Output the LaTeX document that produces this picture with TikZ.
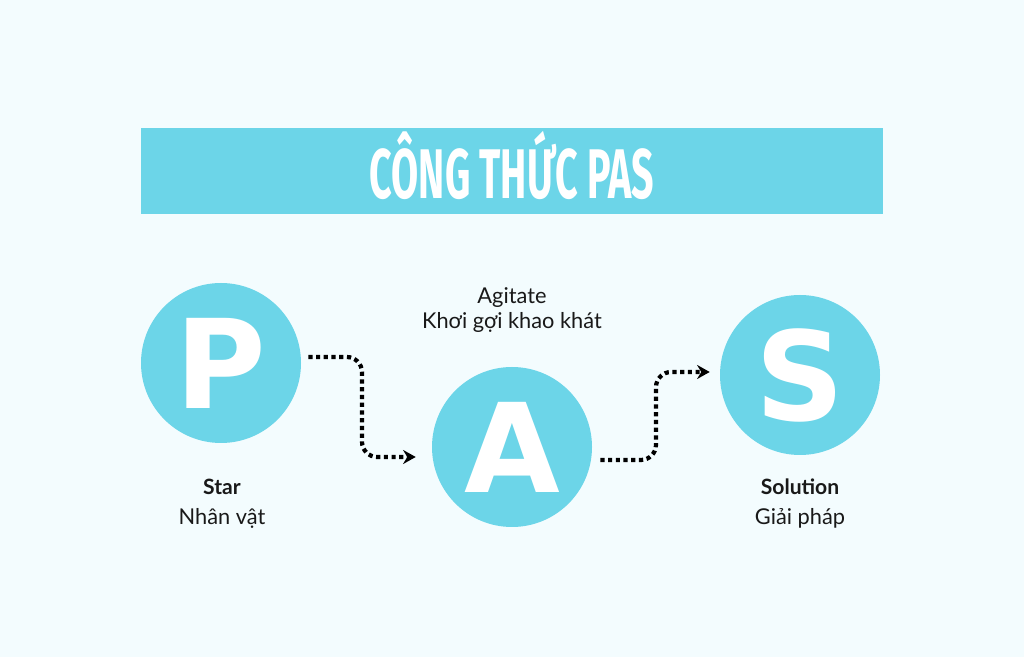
\documentclass[tikz,border=0pt]{standalone}
\usepackage{fontspec}
\setmainfont{Lato}
\newfontfamily\titlefont[FakeStretch=0.56]{Fira Sans}
\newfontfamily\letterfont{DejaVu Sans}
\usetikzlibrary{arrows.meta}
\definecolor{bgcol}{HTML}{F3FCFE}
\definecolor{pascyan}{HTML}{6CD5E8}
\begin{document}
\begin{tikzpicture}[
		disc/.style={circle,fill=pascyan,minimum size=4cm,inner sep=0pt,font=\letterfont\bfseries\fontsize{88}{88}\selectfont,text=white},
		caption/.style={anchor=base,font=\fontsize{15.5}{18}\selectfont,text=black!90},
		flow/.style={line width=3pt,dash pattern=on 3pt off 2.5pt,rounded corners=0.38cm,-{Stealth[length=9pt,width=10pt,inset=3pt]}}
	]
				\fill[bgcol] (0,0) rectangle (25.6,16.425);
				\fill[pascyan] (3.525,11.075) rectangle (22.075,13.225);
				\node[anchor=base,text=white,font=\titlefont\bfseries\fontsize{50}{52}\selectfont] (title) at (12.8,11.45) {CÔNG THỨC PAS};
				
				\node[disc] (P) at (5.525,7.35) {P};
				\node[disc] (A) at (12.8,5.25) {A};
				\node[disc] (S) at (20,7.05) {S};
				
				\node[caption] (agitate) at (12.8,8.825) {Agitate};
				\node[caption] (agitatevi) at (12.8,8.2) {Khơi gợi khao khát};
				\node[caption,font=\bfseries\fontsize{15}{18}\selectfont] (star) at (5.55,4.05) {Star};
				\node[caption] (starvi) at (5.55,3.3) {Nhân vật};
				\node[caption,font=\bfseries\fontsize{15}{18}\selectfont] (solution) at (20,4.05) {Solution};
				\node[caption] (solutionvi) at (20,3.3) {Giải pháp};
				
				\draw[flow] ([xshift=0.175cm,yshift=0.15cm]P.east) -| (9.05,6.2) |- ([xshift=-0.4cm,yshift=-0.25cm]A.west);
				\draw[flow] ([xshift=0.2cm,yshift=-0.325cm]A.east) -| (16.4,6) |- ([xshift=-0.25cm,yshift=0.075cm]S.west);
				
			\end{tikzpicture}
\end{document}
